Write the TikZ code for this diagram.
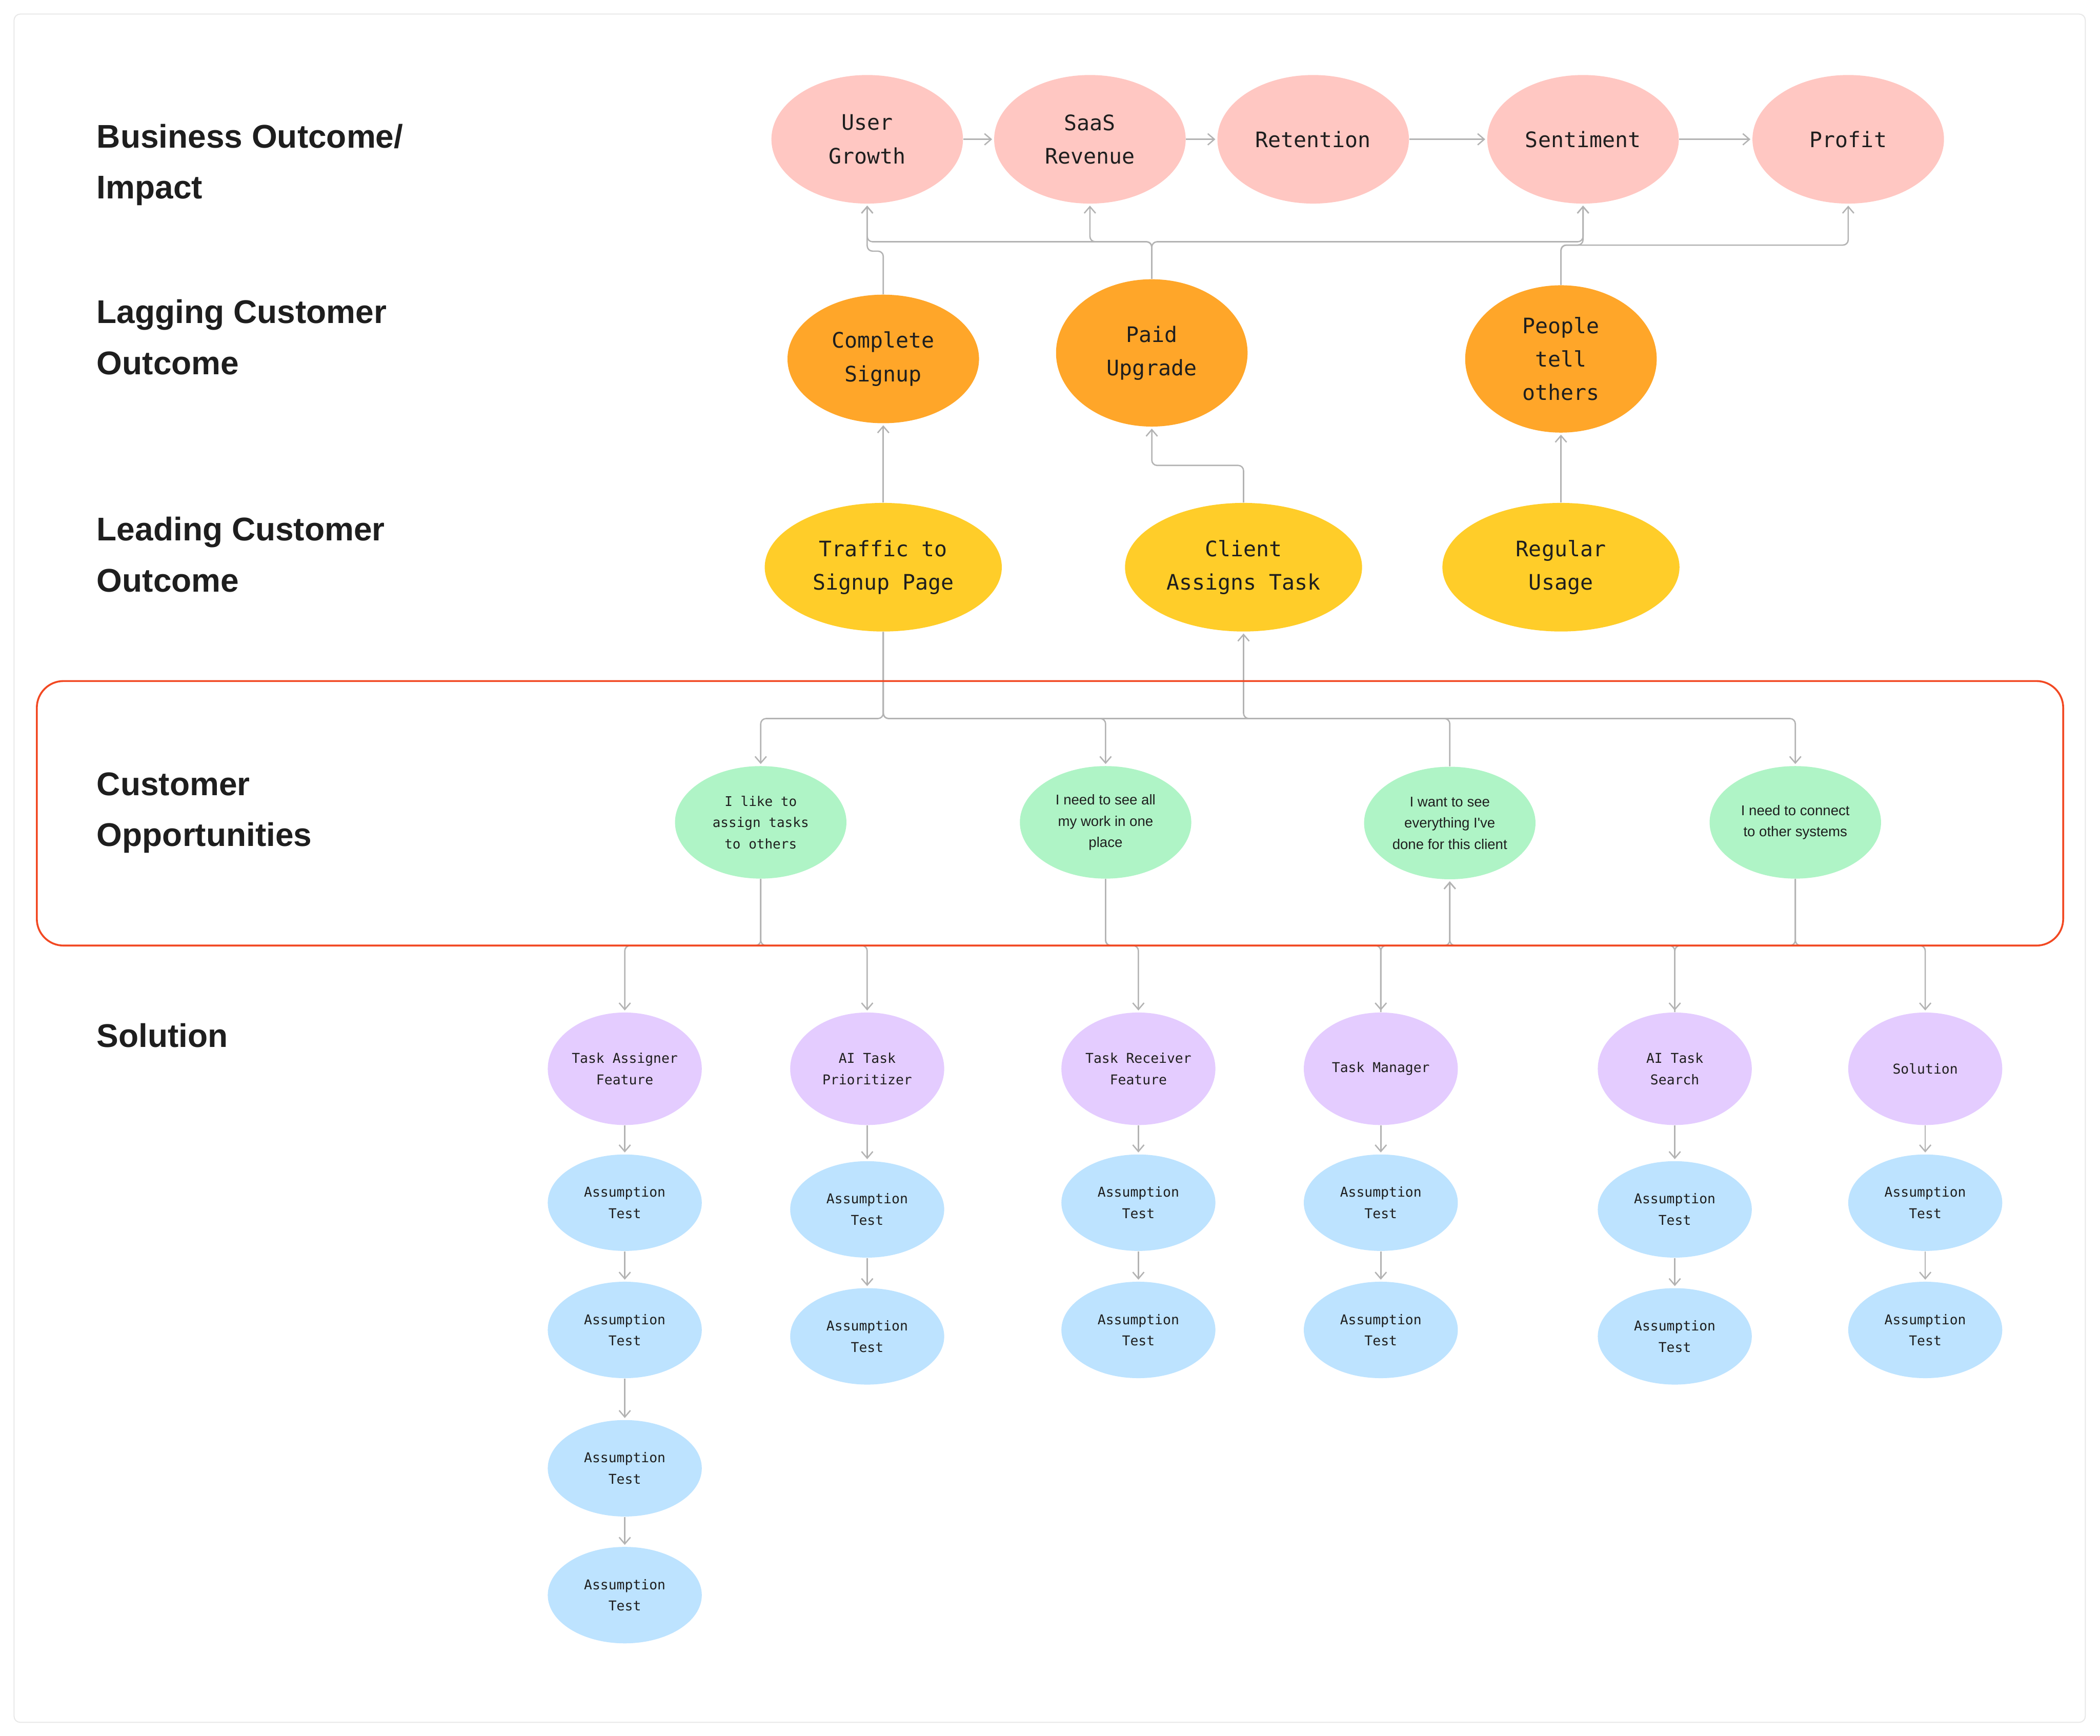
\documentclass[tikz,border=0pt]{standalone}
\usepackage{fontspec}
\setmainfont{Liberation Sans}
\newfontfamily\nodemono{DejaVu Sans Mono}
\newfontfamily\nodesans{Liberation Sans}
\usetikzlibrary{shapes.geometric,arrows.meta}
\newlength\dpx
\setlength\dpx{0.653pt}
\definecolor{pinkc}{HTML}{FFC7C2}
\definecolor{orangec}{HTML}{FFA629}
\definecolor{yellowc}{HTML}{FFCD29}
\definecolor{greenc}{HTML}{AFF4C6}
\definecolor{violetc}{HTML}{E4CCFF}
\definecolor{bluec}{HTML}{BDE3FF}
\definecolor{lineg}{HTML}{B3B3B3}
\definecolor{boxred}{HTML}{F24822}
\definecolor{txt}{HTML}{1E1E1E}
\definecolor{framec}{HTML}{E8E8E8}
\begin{document}
\begin{tikzpicture}[x=0.653pt,y=-0.653pt,
  ov/.style={ellipse, inner sep=0pt, align=center, text=txt},
  pinkn/.style={ov, fill=pinkc, minimum width=143\dpx, minimum height=96\dpx,
    font=\nodemono\fontsize{10.4}{16.3}\selectfont},
  orangen/.style={ov, fill=orangec, minimum width=143\dpx, minimum height=110\dpx,
    font=\nodemono\fontsize{10.4}{16.3}\selectfont},
  yellown/.style={ov, fill=yellowc, minimum width=177\dpx, minimum height=96\dpx,
    font=\nodemono\fontsize{10.4}{16.3}\selectfont},
  greenn/.style={ov, fill=greenc, minimum width=128\dpx, minimum height=84\dpx,
    font=\nodesans\fontsize{6.9}{10.4}\selectfont},
  greenmono/.style={greenn, font=\nodemono\fontsize{6.5}{10.4}\selectfont},
  violetn/.style={ov, fill=violetc, minimum width=115\dpx, minimum height=84\dpx,
    font=\nodemono\fontsize{6.6}{10.4}\selectfont},
  bluen/.style={ov, fill=bluec, minimum width=115\dpx, minimum height=72\dpx,
    font=\nodemono\fontsize{6.6}{10.4}\selectfont},
  rowlabel/.style={anchor=base west, inner sep=0pt, align=left, text=txt,
    font=\bfseries\fontsize{16}{24.9}\selectfont},
  conn/.style={draw=lineg, line width=0.65pt, rounded corners=2.6pt,
    -{Straight Barb[length=3.2pt,width=5.5pt]}, shorten >=0.8pt}
]
\useasboundingbox (0,0) rectangle (1568,1296);
\fill[white] (0,0) rectangle (1568,1296);
\draw[framec, line width=0.5pt, rounded corners=3pt] (10.5,10.5) rectangle (1557,1286);

% row labels (base anchor = baseline of the last line)
\node[rowlabel] (l1) at (72,148.5) {Business Outcome/\\Impact};
\node[rowlabel] (l2) at (72,279.6) {Lagging Customer\\Outcome};
\node[rowlabel] (l3) at (72,441.9) {Leading Customer\\Outcome};
\node[rowlabel] (l4) at (72,631.9) {Customer\\Opportunities};
\node[rowlabel] (l5) at (72,781.8) {Solution};

% business outcomes
\node[pinkn] (ug) at (647.5,104) {User\\Growth};
\node[pinkn] (sr) at (813.8,104) {SaaS\\Revenue};
\node[pinkn] (re) at (980.5,104) {Retention};
\node[pinkn] (se) at (1182,104) {Sentiment};
\node[pinkn] (pf) at (1380,104) {Profit};

% lagging
\node[orangen, minimum height=96\dpx] (cs) at (659.5,268) {Complete\\Signup};
\node[orangen] (pu) at (860,263.5) {Paid\\Upgrade};
\node[orangen] (pt) at (1165.5,268) {People\\tell\\others};

% leading
\node[yellown] (ts) at (659.5,423.5) {Traffic to\\Signup Page};
\node[yellown] (ca) at (928.5,423.5) {Client\\Assigns Task};
\node[yellown] (ru) at (1165.5,423.5) {Regular\\Usage};

% opportunities
\node[greenmono] (g1) at (568,614) {I like to\\assign tasks\\to others};
\node[greenn] (g2) at (825.5,614) {I need to see all\\my work in one\\place};
\node[greenn] (g3) at (1082.5,614.5) {I want to see\\everything I've\\done for this client};
\node[greenn] (g4) at (1340.5,614) {I need to connect\\to other systems};

% solutions
\node[violetn] (p1) at (466.5,798) {Task Assigner\\Feature};
\node[violetn] (p2) at (647.5,798) {AI Task\\Prioritizer};
\node[violetn] (p3) at (850,798) {Task Receiver\\Feature};
\node[violetn] (p4) at (1031,798) {Task Manager};
\node[violetn] (p5) at (1250.5,798) {AI Task\\Search};
\node[violetn] (p6) at (1437.5,798) {Solution};

% assumption tests
\node[bluen] (a11) at (466.5,898) {Assumption\\Test};
\node[bluen] (a12) at (466.5,993) {Assumption\\Test};
\node[bluen] (a13) at (466.5,1096.3) {Assumption\\Test};
\node[bluen] (a14) at (466.5,1191) {Assumption\\Test};
\node[bluen] (a21) at (647.5,903) {Assumption\\Test};
\node[bluen] (a22) at (647.5,997.8) {Assumption\\Test};
\node[bluen] (a31) at (850,898) {Assumption\\Test};
\node[bluen] (a32) at (850,993) {Assumption\\Test};
\node[bluen] (a41) at (1031,898) {Assumption\\Test};
\node[bluen] (a42) at (1031,993) {Assumption\\Test};
\node[bluen] (a51) at (1250.5,903) {Assumption\\Test};
\node[bluen] (a52) at (1250.5,997.8) {Assumption\\Test};
\node[bluen] (a61) at (1437.5,898) {Assumption\\Test};
\node[bluen] (a62) at (1437.5,993) {Assumption\\Test};

% bus levels
\coordinate (busA) at (0,180.5);
\coordinate (busB) at (0,183);
\coordinate (busC) at (0,187.5);
\coordinate (busD) at (0,347.5);
\coordinate (busE) at (0,536.5);
\coordinate (busF) at (0,706);

% top chain
\draw[conn] (ug) -- (sr);
\draw[conn] (sr) -- (re);
\draw[conn] (re) -- (se);
\draw[conn] (se) -- (pf);

% lagging -> business
\draw[conn] (cs.north) -- (cs.north |- busC) -| (ug.south);
\draw[conn] (pu.north) -- (pu.north |- busA) -| (ug.south);
\draw[conn] (pu.north) -- (pu.north |- busA) -| (sr.south);
\draw[conn] (pu.north) -- (pu.north |- busA) -| (se.south);
\draw[conn] (pt.north) -- (pt.north |- busB) -| (se.south);
\draw[conn] (pt.north) -- (pt.north |- busB) -| (pf.south);

% leading -> lagging
\draw[conn] (ts.north) -- (cs.south);
\draw[conn] (ca.north) -- (ca.north |- busD) -| (pu.south);
\draw[conn] (ru.north) -- (pt.south);

% leading <-> opportunities
\draw[conn] (ts.south) -- (ts.south |- busE) -| (g1.north);
\draw[conn] (ts.south) -- (ts.south |- busE) -| (g2.north);
\draw[conn] (ts.south) -- (ts.south |- busE) -| (g4.north);
\draw[conn] (g3.north) -- (g3.north |- busE) -| (ca.south);

% opportunities <-> solutions
\draw[conn] (g1.south) -- (g1.south |- busF) -| (p1.north);
\draw[conn] (g1.south) -- (g1.south |- busF) -| (p2.north);
\draw[conn] (g2.south) -- (g2.south |- busF) -| (p3.north);
\draw[conn] (g2.south) -- (g2.south |- busF) -| (p4.north);
\draw[conn] (p4.north) -- (p4.north |- busF) -| (g3.south);
\draw[conn] (p5.north) -- (p5.north |- busF) -| (g3.south);
\draw[conn] (g4.south) -- (g4.south |- busF) -| (p5.north);
\draw[conn] (g4.south) -- (g4.south |- busF) -| (p6.north);

% solution chains
\draw[conn] (p1) -- (a11);
\draw[conn] (a11) -- (a12);
\draw[conn] (a12) -- (a13);
\draw[conn] (a13) -- (a14);
\draw[conn] (p2) -- (a21);
\draw[conn] (a21) -- (a22);
\draw[conn] (p3) -- (a31);
\draw[conn] (a31) -- (a32);
\draw[conn] (p4) -- (a41);
\draw[conn] (a41) -- (a42);
\draw[conn] (p5) -- (a51);
\draw[conn] (a51) -- (a52);
\draw[conn] (p6) -- (a61);
\draw[conn] (a61) -- (a62);

% opportunities box
\draw[boxred, line width=0.9pt, rounded corners=13pt] (27.5,508.5) rectangle (1540.5,706);
\end{tikzpicture}
\end{document}
